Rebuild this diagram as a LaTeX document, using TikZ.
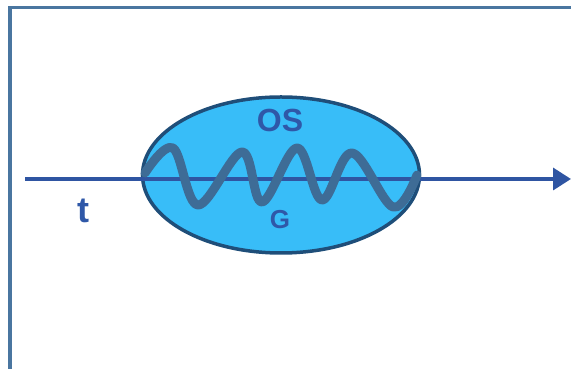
\documentclass[tikz,border=0pt]{standalone}
\usepackage{fontspec}
\setmainfont{Liberation Sans}
\usetikzlibrary{arrows.meta,shapes.geometric}
\definecolor{framecol}{HTML}{4A76A0}
\definecolor{axiscol}{HTML}{2F55A2}
\definecolor{cellfill}{HTML}{38BDF8}
\definecolor{cellline}{HTML}{1F4E79}
\definecolor{wavecol}{HTML}{3E6C96}
\definecolor{labelcol}{HTML}{2F58A8}
\tikzset{
  framepath/.style={draw=framecol, line width=3.5pt},
  axis/.style={draw=axiscol, line width=3.5pt, -{Triangle[length=18pt,width=22pt]}},
  cell/.style={ellipse, draw=cellline, fill=cellfill, line width=3.5pt,
    minimum width=277pt, minimum height=156pt, inner sep=0pt},
  wave/.style={draw=wavecol, line width=9pt, line cap=round, line join=round},
  lbl/.style={text=labelcol, font=\bfseries, inner sep=0pt}
}
\begin{document}
\begin{tikzpicture}[x=1pt,y=1pt]
  \useasboundingbox (0,0) rectangle (571,369);
  % open frame: left and top edges
  \coordinate (fb) at (10,-5);
  \coordinate (fc) at (10,361.5);
  \coordinate (fr) at (580,361.5);
  \draw[framepath] (fb) -- (fc) -- (fr);
  % ellipse
  \node[cell] (os) at (281,194) {};
  % time axis
  \coordinate (ts) at (25,190);
  \coordinate (te) at (571,190);
  \draw[axis] (ts) -- (te);
  % wave inside the ellipse
  \draw[wave] plot[smooth, tension=0.6] coordinates {
    (145,196) (173,221) (198,164) (242,217) (262,167)
    (297,221) (322,169) (352,216) (393,162) (417,194)};
  % labels
  \node[lbl, font=\bfseries\fontsize{32}{32}\selectfont] (ost) at (280,249) {OS};
  \node[lbl, font=\bfseries\fontsize{26}{26}\selectfont] (g) at (280,149) {G};
  \node[lbl, font=\bfseries\fontsize{36}{36}\selectfont] (t) at (83,158) {t};
\end{tikzpicture}
\end{document}
